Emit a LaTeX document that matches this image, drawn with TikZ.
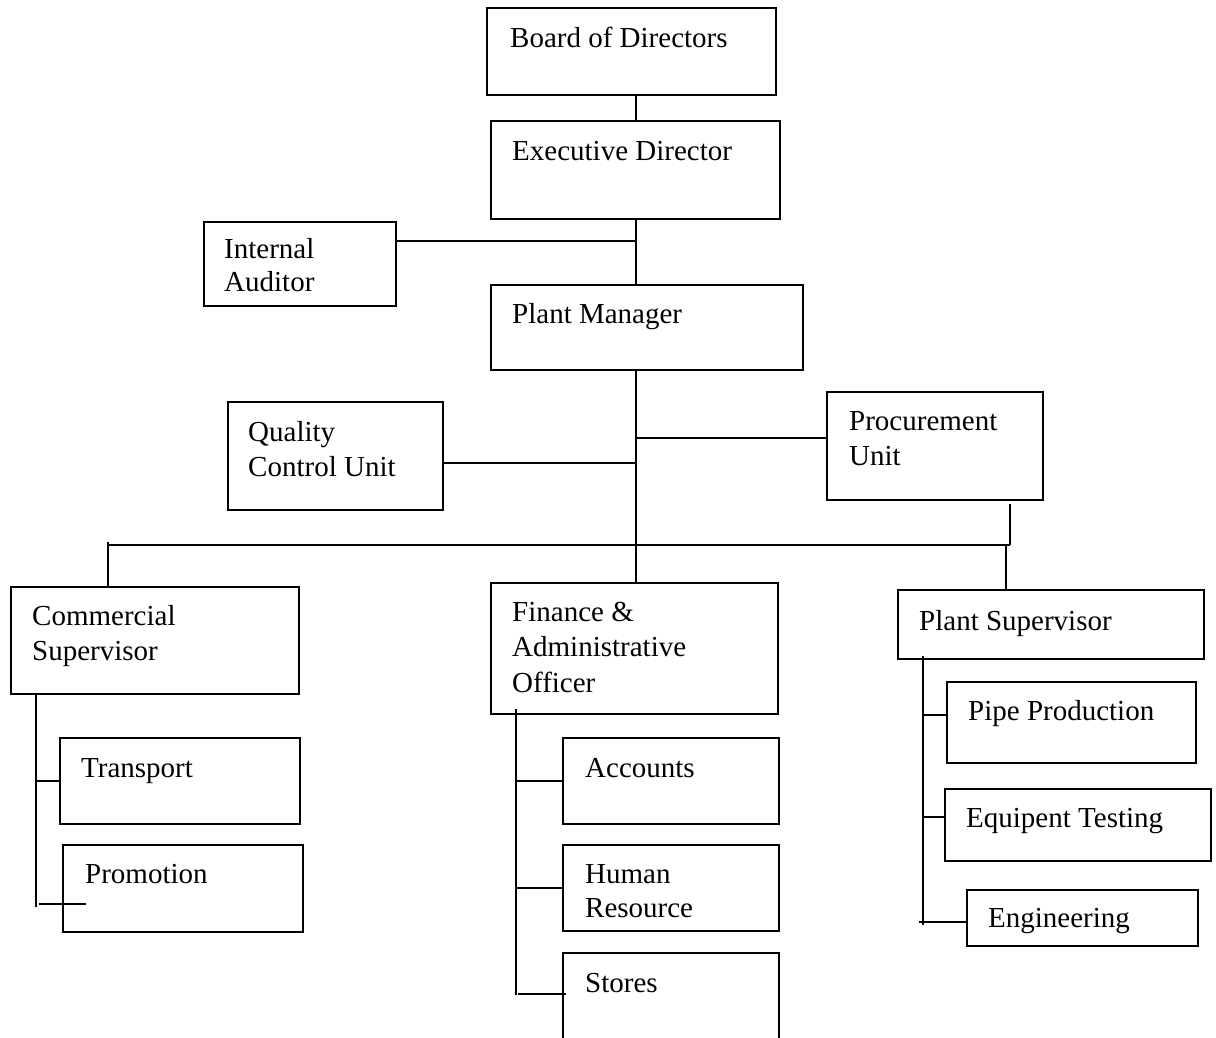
\documentclass[tikz,border=0pt]{standalone}
\usepackage{fontspec}
\setmainfont{Liberation Serif}
\begin{document}
\begin{tikzpicture}[x=1pt,y=-1pt,
  box/.style={draw, line width=2pt, anchor=north west, inner sep=0pt, outer sep=0pt},
  lbl/.style={anchor=base west, align=left, inner sep=0pt, font=\fontsize{29}{35}\selectfont},
  conn/.style={line width=2pt}]
\useasboundingbox (0,0) rectangle (1216,1037);
\fill[white] (0,0) rectangle (1216,1037);
\clip (0,0) rectangle (1216,1037);
% boxes
\node[box, minimum width=289, minimum height=87]  (bod)  at (487,8) {};
\node[box, minimum width=289, minimum height=98]  (exe)  at (491,121) {};
\node[box, minimum width=192, minimum height=84]  (ia)   at (204,222) {};
\node[box, minimum width=312, minimum height=85]  (pm)   at (491,285) {};
\node[box, minimum width=215, minimum height=108] (qc)   at (228,402) {};
\node[box, minimum width=216, minimum height=108] (proc) at (827,392) {};
\node[box, minimum width=288, minimum height=107] (com)  at (11,587) {};
\node[box, minimum width=287, minimum height=131] (fin)  at (491,583) {};
\node[box, minimum width=306, minimum height=69]  (ps)   at (898,590) {};
\node[box, minimum width=240, minimum height=86]  (tr)   at (60,738) {};
\node[box, minimum width=240, minimum height=87]  (pro)  at (63,845) {};
\node[box, minimum width=216, minimum height=86]  (acc)  at (563,738) {};
\node[box, minimum width=216, minimum height=86]  (hr)   at (563,845) {};
\node[box, minimum width=216, minimum height=110] (sto)  at (563,953) {};
\node[box, minimum width=249, minimum height=81]  (pp)   at (947,682) {};
\node[box, minimum width=266, minimum height=72]  (et)   at (945,789) {};
\node[box, minimum width=231, minimum height=56]  (en)   at (967,890) {};
% labels (multi-line: anchor is the baseline of the last line)
\node[lbl] at (510,47)  {Board of Directors};
\node[lbl] at (512,160) {Executive Director};
\node[lbl, font=\fontsize{29}{33}\selectfont] at (224,291) {Internal\\Auditor};
\node[lbl] at (512,323) {Plant Manager};
\node[lbl] at (248,476) {Quality\\Control Unit};
\node[lbl] at (849,465) {Procurement\\Unit};
\node[lbl] at (32,660)  {Commercial\\Supervisor};
\node[lbl, font=\fontsize{29}{35.5}\selectfont] at (512,692) {Finance \&\\Administrative\\Officer};
\node[lbl] at (919,630) {Plant Supervisor};
\node[lbl] at (81,777)  {Transport};
\node[lbl] at (85,883)  {Promotion};
\node[lbl] at (585,777) {Accounts};
\node[lbl, font=\fontsize{29}{34}\selectfont] at (585,917) {Human\\Resource};
\node[lbl] at (585,992) {Stores};
\node[lbl] at (968,720) {Pipe Production};
\node[lbl] at (966,827) {Equipent Testing};
\node[lbl] at (988,927) {Engineering};
% connectors
\coordinate (sx) at (636,0);
\draw[conn] (bod.south -| exe.north) -- (exe.north);
\draw[conn] (exe.south -| sx) -- (pm.north -| sx);
\coordinate (j1) at (636,241);
\draw[conn] (ia.east |- j1) -- (j1);
\draw[conn] (pm.south -| sx) -- (fin.north -| sx);
\coordinate (j2) at (636,438);
\draw[conn] (j2) -- (proc.west |- j2);
\coordinate (j3) at (636,463);
\draw[conn] (qc.east |- j3) -- (j3);
\coordinate (bl) at (108,545);
\coordinate (br) at (1010,545);
\draw[conn] (bl) -- (br);
\draw[conn] (108,542) -- (com.north -| bl);
\coordinate (bp) at (1006,545);
\draw[conn] (bp) -- (ps.north -| bp);
\draw[conn] (proc.south -| br) ++(0,4) -- (br);
% left tree
\coordinate (lb) at (36,907);
\draw[conn] (com.south -| lb) -- (lb);
\draw[conn] (tr.west -| lb) -- (tr.west);
\coordinate (pa) at (39,904);
\coordinate (pe) at (86,904);
\draw[conn] (pa) -- (pe);
% middle tree
\coordinate (mt) at (516,709);
\coordinate (mb) at (516,995);
\draw[conn] (mt) -- (mb);
\draw[conn] (acc.west -| mt) -- (acc.west);
\draw[conn] (hr.west -| mt) -- (hr.west);
\coordinate (se) at (566,994);
\draw[conn] (518,994) -- (se);
% right tree
\coordinate (rt) at (923,656);
\coordinate (rb) at (923,925);
\draw[conn] (rt) -- (rb);
\coordinate (r1) at (947,715);
\draw[conn] (r1 -| rt) -- (r1);
\coordinate (r2) at (946,817);
\draw[conn] (r2 -| rt) -- (r2);
\coordinate (r3) at (967,922);
\draw[conn] (919,922) -- (r3);
\end{tikzpicture}
\end{document}
